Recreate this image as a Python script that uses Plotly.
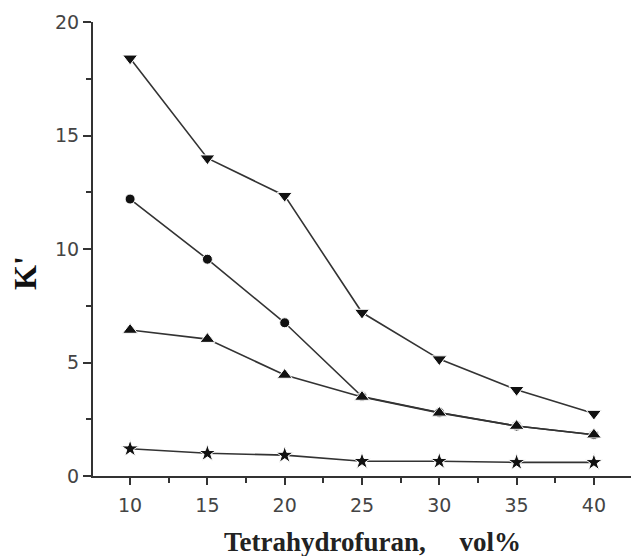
import plotly.graph_objects as go

thf = [10, 15, 20, 25, 30, 35, 40]
s_down = [18.4, 14.0, 12.35, 7.2, 5.15, 3.8, 2.75]
s_circle = [12.2, 9.55, 6.75, 3.5, 2.8, 2.2, 1.82]
s_up = [6.43, 6.03, 4.45, 3.48, 2.78, 2.2, 1.82]
s_star = [1.2, 1.0, 0.92, 0.65, 0.65, 0.6, 0.6]

line_col = "#333333"
fig = go.Figure()
series = [
    (s_circle, "circle", 10),
    (s_up, "triangle-up", 13),
    (s_down, "triangle-down", 13),
    (s_star, "star", 13),
]
for ys, sym, sz in series:
    fig.add_trace(go.Scatter(
        x=thf, y=ys, mode="lines+markers",
        line=dict(color=line_col, width=1.6),
        marker=dict(symbol=sym, size=sz, color="#111111",
                    line=dict(color="white", width=1)),
        showlegend=False,
    ))

PW, PH, L, T = 538, 454, 93, 22
tickfont = dict(family="DejaVu Sans", size=19, color="#444444")
fig.update_layout(
    width=631, height=556,
    margin=dict(l=L, r=0, t=T, b=80),
    plot_bgcolor="white", paper_bgcolor="white",
    xaxis=dict(
        range=[7.6, 42.4], tickmode="linear", tick0=10, dtick=5,
        ticks="outside", ticklen=7, ticklabelstandoff=4,
        tickwidth=1.5, tickcolor="#333", showline=True, linecolor="#333",
        linewidth=2, showgrid=False, zeroline=False, tickfont=tickfont,
        minor=dict(tickmode="linear", dtick=2.5, tick0=10, ticks="outside",
                   ticklen=5, tickwidth=1.5, tickcolor="#333", showgrid=False),
    ),
    yaxis=dict(
        range=[0, 20], tickmode="linear", tick0=0, dtick=5,
        ticks="outside", ticklen=8,
        tickwidth=1.5, tickcolor="#333", showline=True, linecolor="#333",
        linewidth=2, showgrid=False, zeroline=False, tickfont=tickfont,
        minor=dict(tickmode="linear", dtick=2.5, tick0=0, ticks="outside",
                   ticklen=5, tickwidth=1.5, tickcolor="#333", showgrid=False),
    ),
    annotations=[
        dict(text="<b>K'</b>", textangle=-90, xref="paper", yref="paper",
             x=(25 - L) / PW, y=1 - (273 - T) / PH,
             xanchor="center", yanchor="middle", showarrow=False,
             font=dict(family="Liberation Serif", size=32, color="#111")),
        dict(text="<b>Tetrahydrofuran,&nbsp;&nbsp;&nbsp;&nbsp;&nbsp;vol%</b>",
             xref="paper", yref="paper",
             x=(372 - L) / PW, y=1 - (542 - T) / PH,
             xanchor="center", yanchor="middle", showarrow=False,
             font=dict(family="Liberation Serif", size=27, color="#222")),
    ],
)
fig.write_html("out.html")
